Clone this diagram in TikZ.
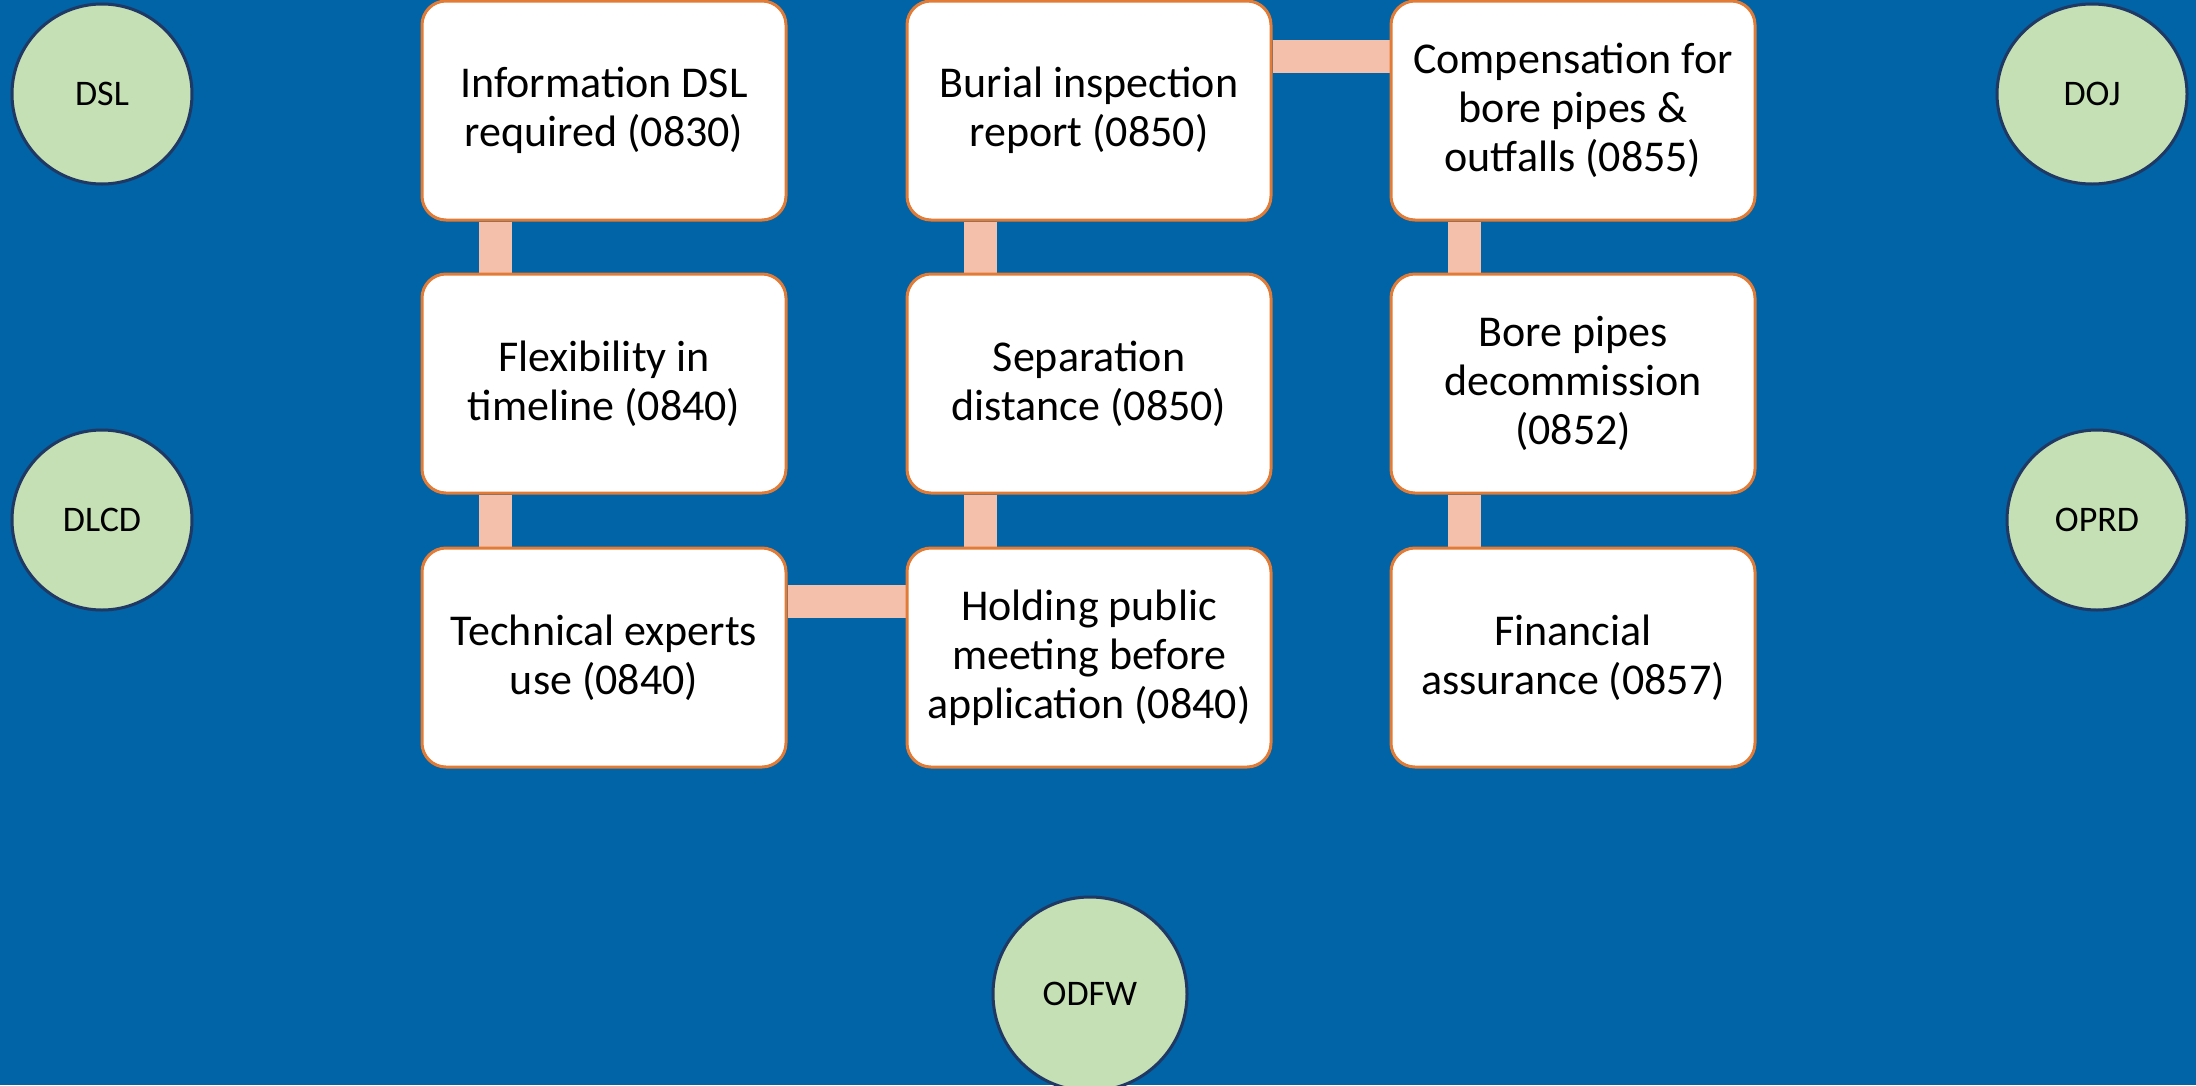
\documentclass[tikz,border=0pt]{standalone}
\usepackage{fontspec}
\setmainfont{Carlito}
\usetikzlibrary{backgrounds,shapes.geometric}
\definecolor{bgblue}{HTML}{0064A6}
\definecolor{boxedge}{HTML}{E27B36}
\definecolor{connfill}{HTML}{F4C0AC}
\definecolor{circfill}{HTML}{C5E0B4}
\definecolor{circedge}{HTML}{1F3864}
\tikzset{
  stepbox/.style={draw=boxedge, line width=3pt, fill=white, rounded corners=24pt,
    minimum width=364pt, minimum height=219pt, inner sep=0pt, align=center,
    font=\fontsize{44pt}{49pt}\selectfont, text=black},
  agency/.style={draw=circedge, line width=3pt, fill=circfill, circle,
    minimum size=180pt, inner sep=0pt, font=\fontsize{36pt}{40pt}\selectfont, text=black},
  conn/.style={draw=connfill, line width=33pt, line cap=butt}
}
\begin{document}
\begin{tikzpicture}[x=1pt,y=-1pt]
\begin{scope}[on background layer]
\fill[bgblue] (0,0) rectangle (2196,1085);
\end{scope}
\useasboundingbox (0,0) rectangle (2196,1085);
% boxes: column centres 604, 1089, 1573; row centres 110.5, 383.5, 657.5
\node[stepbox] (a1) at (604,110.5) {Information DSL\\required (0830)};
\node[stepbox] (a2) at (604,383.5) {Flexibility in\\timeline (0840)};
\node[stepbox] (a3) at (604,657.5) {Technical experts\\use (0840)};
\node[stepbox] (b1) at (1089,110.5) {Burial inspection\\report (0850)};
\node[stepbox] (b2) at (1089,383.5) {Separation\\distance (0850)};
\node[stepbox] (b3) at (1089,657.5) {Holding public\\meeting before\\application (0840)};
\node[stepbox] (c1) at (1573,110.5) {Compensation for\\bore pipes \&\\outfalls (0855)};
\node[stepbox] (c2) at (1573,383.5) {Bore pipes\\decommission\\(0852)};
\node[stepbox] (c3) at (1573,657.5) {Financial\\assurance (0857)};
% circles
\node[agency] (dsl) at (102,94) {DSL};
\node[agency] (dlcd) at (102,520) {DLCD};
\node[agency, ellipse, minimum width=190pt, minimum height=180pt] (doj) at (2092,94) {DOJ};
\node[agency] (oprd) at (2097,520) {OPRD};
\node[agency, minimum size=194pt] (odfw) at (1090,994) {ODFW};
% connectors
\begin{scope}[on background layer]
\draw[conn] ([xshift=-109pt]a1.south) -- ([xshift=-109pt]a2.north);
\draw[conn] ([xshift=-109pt]a2.south) -- ([xshift=-109pt]a3.north);
\draw[conn] ([xshift=-109pt]b1.south) -- ([xshift=-109pt]b2.north);
\draw[conn] ([xshift=-109pt]b2.south) -- ([xshift=-109pt]b3.north);
\draw[conn] ([xshift=-109pt]c1.south) -- ([xshift=-109pt]c2.north);
\draw[conn] ([xshift=-109pt]c2.south) -- ([xshift=-109pt]c3.north);
\draw[conn] ([yshift=54.5pt]b1.east) -- ([yshift=54.5pt]c1.west);
\draw[conn] ([yshift=56.5pt]a3.east) -- ([yshift=56.5pt]b3.west);
\end{scope}
\end{tikzpicture}
\end{document}
